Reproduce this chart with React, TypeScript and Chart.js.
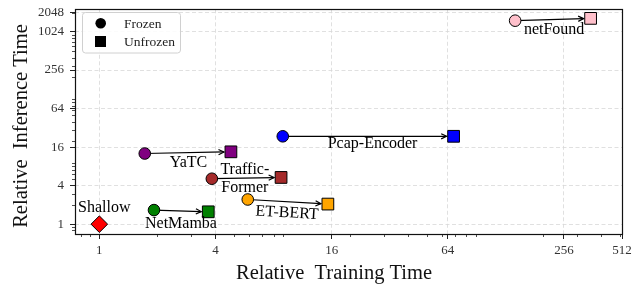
import React, { useEffect, useRef } from 'react';
import { Chart, registerables } from 'chart.js';

Chart.register(...registerables);

// ---------------- data ----------------
const models = ['NetMamba', 'YaTC', 'Traffic-Former', 'ET-BERT', 'Pcap-Encoder', 'netFound'];
const frozenTrain = [1.92, 1.72, 3.83, 5.88, 8.93, 143];
const frozenInfer = [1.66, 12.7, 5.13, 2.43, 23.6, 1512];
const unfrozenTrain = [3.67, 4.81, 8.75, 15.3, 68.6, 352];
const unfrozenInfer = [1.56, 13.5, 5.37, 2.06, 23.6, 1643];
const shallowName = 'Shallow';
const shallowTrain = [1];
const shallowInfer = [1];
const xTicks = [1, 4, 16, 64, 256, 512];
const yTicks = [1, 4, 16, 64, 256, 1024, 2048];
const legendLabels = ['Frozen', 'Unfrozen'];
const xTitle = 'Relative  Training Time';
const yTitle = 'Relative  Inference Time';

// ---------------- styles ----------------
const modelColors = ['#008000', '#800080', '#a52a2a', '#ffa500', '#0000ff', '#ffc0cb'];
const shallowColor = '#ff0000';
const SERIF = '"Liberation Serif", "Times New Roman", serif';
// label text offsets (px) from frozen marker: [dx, dy(baseline of first line)]
const labelOffsets: number[][] = [
  [27, 17.7],
  [43.7, 13.3],
  [33, -5],
  [39, 17.7],
  [89.8, 11.7],
  [39, 13.4],
];
const shallowOffset = [5, -12.6];
const rotateLabel = [false, false, false, true, false, false];

const X_MIN = 0.748;
const X_MAX = 512;
const Y_MIN = 0.702;
const Y_MAX = 2277;

function minorValues(min: number, max: number, majors: number[]) {
  const out: number[] = [];
  for (let e = -1; e <= 4; e++) {
    const dec = Math.pow(10, e);
    for (let m = 2; m <= 9; m++) {
      const v = +(m * dec).toPrecision(6);
      if (v > min && v < max && !majors.includes(v)) out.push(v);
    }
  }
  return out;
}

function drawArrow(ctx: CanvasRenderingContext2D, x1: number, y1: number, x2: number, y2: number) {
  const ang = Math.atan2(y2 - y1, x2 - x1);
  const shrinkB = 7;
  const ex = x2 - Math.cos(ang) * shrinkB;
  const ey = y2 - Math.sin(ang) * shrinkB;
  ctx.save();
  ctx.strokeStyle = '#000';
  ctx.lineWidth = 1.2;
  ctx.beginPath();
  ctx.moveTo(x1, y1);
  ctx.lineTo(ex, ey);
  ctx.stroke();
  const hl = 6;
  const ha = 0.45;
  ctx.beginPath();
  ctx.moveTo(ex - hl * Math.cos(ang - ha), ey - hl * Math.sin(ang - ha));
  ctx.lineTo(ex, ey);
  ctx.lineTo(ex - hl * Math.cos(ang + ha), ey - hl * Math.sin(ang + ha));
  ctx.stroke();
  ctx.restore();
}

const decorPlugin = {
  id: 'decor',
  beforeDatasetsDraw(chart: any) {
    const ctx = chart.ctx as CanvasRenderingContext2D;
    const xs = chart.scales.x;
    const ys = chart.scales.y;
    models.forEach((_, i) => {
      drawArrow(
        ctx,
        xs.getPixelForValue(frozenTrain[i]),
        ys.getPixelForValue(frozenInfer[i]),
        xs.getPixelForValue(unfrozenTrain[i]),
        ys.getPixelForValue(unfrozenInfer[i])
      );
    });
  },
  afterDatasetsDraw(chart: any) {
    const ctx = chart.ctx as CanvasRenderingContext2D;
    const xs = chart.scales.x;
    const ys = chart.scales.y;
    ctx.save();
    ctx.fillStyle = '#000';
    ctx.font = `16px ${SERIF}`;
    ctx.textAlign = 'center';
    ctx.textBaseline = 'alphabetic';
    models.forEach((name, i) => {
      const px = xs.getPixelForValue(frozenTrain[i]);
      const py = ys.getPixelForValue(frozenInfer[i]);
      const lines = name === 'Traffic-Former' ? ['Traffic-', 'Former'] : [name];
      const [dx, dy] = labelOffsets[i];
      if (rotateLabel[i]) {
        const qx = xs.getPixelForValue(unfrozenTrain[i]);
        const qy = ys.getPixelForValue(unfrozenInfer[i]);
        const ang = Math.atan2(qy - py, qx - px);
        ctx.save();
        ctx.translate(px + dx, py + dy);
        ctx.rotate(ang);
        ctx.fillText(lines[0], 0, 0);
        ctx.restore();
      } else {
        lines.forEach((ln, k) => ctx.fillText(ln, px + dx, py + dy + k * 18.4));
      }
    });
    const sx = xs.getPixelForValue(shallowTrain[0]);
    const sy = ys.getPixelForValue(shallowInfer[0]);
    ctx.fillText(shallowName, sx + shallowOffset[0], sy + shallowOffset[1]);
    ctx.restore();
  },
  afterDraw(chart: any) {
    const ctx = chart.ctx as CanvasRenderingContext2D;
    const xs = chart.scales.x;
    const ys = chart.scales.y;
    const { left, right, top, bottom } = chart.chartArea;
    ctx.save();
    // minor ticks
    ctx.strokeStyle = '#222';
    ctx.lineWidth = 0.8;
    minorValues(X_MIN, X_MAX, xTicks).forEach((v) => {
      const x = Math.round(xs.getPixelForValue(v)) + 0.5;
      ctx.beginPath();
      ctx.moveTo(x, bottom);
      ctx.lineTo(x, bottom + 3);
      ctx.stroke();
    });
    minorValues(Y_MIN, Y_MAX, yTicks).forEach((v) => {
      const y = Math.round(ys.getPixelForValue(v)) + 0.5;
      ctx.beginPath();
      ctx.moveTo(left, y);
      ctx.lineTo(left - 3, y);
      ctx.stroke();
    });
    // spines
    ctx.strokeStyle = '#111';
    ctx.lineWidth = 1.2;
    ctx.strokeRect(Math.round(left) + 0.5, Math.round(top) + 0.5, Math.round(right) - Math.round(left), Math.round(bottom) - Math.round(top));

    // legend
    const lx = 82, ly = 12.5, lw = 98, lh = 40.5;
    ctx.beginPath();
    (ctx as any).roundRect(lx + 0.5, ly, lw, lh, 3);
    ctx.fillStyle = 'rgba(255,255,255,0.85)';
    ctx.fill();
    ctx.strokeStyle = '#d0d0d0';
    ctx.lineWidth = 1;
    ctx.stroke();
    ctx.fillStyle = '#000';
    ctx.beginPath();
    ctx.arc(100.7, 23.3, 5.3, 0, Math.PI * 2);
    ctx.fill();
    ctx.fillRect(95, 36, 11, 11);
    ctx.font = `13.5px ${SERIF}`;
    ctx.textAlign = 'left';
    ctx.textBaseline = 'alphabetic';
    ctx.fillStyle = '#222';
    ctx.fillText(legendLabels[0], 124, 27.5);
    ctx.fillText(legendLabels[1], 124, 45.5);

    // axis titles
    ctx.fillStyle = '#111';
    ctx.font = `20.5px ${SERIF}`;
    ctx.textAlign = 'center';
    ctx.fillText(xTitle, 334, 279);
    ctx.save();
    ctx.translate(26.5, 126);
    ctx.rotate(-Math.PI / 2);
    ctx.fillText(yTitle, 0, 0);
    ctx.restore();
    ctx.restore();
  },
};

export default function App() {
  const ref = useRef<HTMLCanvasElement | null>(null);
  useEffect(() => {
    if (!ref.current) return;
    const chart = new Chart(ref.current, {
      type: 'scatter',
      data: {
        datasets: [
          {
            label: legendLabels[0],
            data: frozenTrain.map((x, i) => ({ x, y: frozenInfer[i] })),
            pointStyle: 'circle',
            pointRadius: 5.8,
            pointBackgroundColor: modelColors,
            pointBorderColor: '#000',
            pointBorderWidth: 1,
          },
          {
            label: legendLabels[1],
            data: unfrozenTrain.map((x, i) => ({ x, y: unfrozenInfer[i] })),
            pointStyle: 'rect',
            pointRadius: 8.3,
            pointBackgroundColor: modelColors,
            pointBorderColor: '#000',
            pointBorderWidth: 1,
          },
          {
            label: shallowName,
            data: shallowTrain.map((x, i) => ({ x, y: shallowInfer[i] })),
            pointStyle: 'rectRot',
            pointRadius: 8.3,
            pointBackgroundColor: shallowColor,
            pointBorderColor: '#000',
            pointBorderWidth: 1,
          },
        ],
      },
      options: {
        responsive: false,
        animation: false,
        events: [],
        layout: { padding: { top: 6, right: 22, left: 0, bottom: 0 } },
        plugins: { legend: { display: false }, tooltip: { enabled: false }, title: { display: false } },
        scales: {
          x: {
            type: 'logarithmic',
            bounds: 'data',
            min: X_MIN,
            max: X_MAX,
            afterBuildTicks: (s: any) => {
              s.ticks = xTicks.map((v) => ({ value: v }));
            },
            afterFit: (s: any) => {
              s.height = 52;
              s.paddingLeft = 0;
              s.paddingRight = 0;
            },
            ticks: {
              autoSkip: false,
              maxRotation: 0,
              padding: 4,
              color: '#333',
              font: { family: SERIF, size: 13 },
              callback: (v: any) => String(v),
            },
            grid: {
              color: '#d8d8d8',
              lineWidth: 0.8,
              tickColor: '#222',
              tickLength: 5,
              tickWidth: 1,
            },
            border: { display: false, dash: [4, 2.5] },
          },
          y: {
            type: 'logarithmic',
            bounds: 'data',
            min: Y_MIN,
            max: Y_MAX,
            afterBuildTicks: (s: any) => {
              s.ticks = yTicks.map((v) => ({ value: v }));
            },
            afterFit: (s: any) => {
              s.width = 75;
              s.paddingTop = 0;
              s.paddingBottom = 0;
            },
            ticks: {
              autoSkip: false,
              padding: 6,
              color: '#333',
              font: { family: SERIF, size: 13 },
              callback: (v: any) => String(v),
            },
            grid: {
              color: '#d8d8d8',
              lineWidth: 0.8,
              tickColor: '#222',
              tickLength: 5,
              tickWidth: 1,
            },
            border: { display: false, dash: [4, 2.5] },
          },
        },
      },
      plugins: [decorPlugin],
    });
    return () => chart.destroy();
  }, []);
  return (
    <div style={{ position: 'fixed', left: 0, top: 0, width: 644, height: 286, background: '#fff' }}>
      <canvas ref={ref} width={644} height={286} style={{ display: 'block' }} />
    </div>
  );
}
